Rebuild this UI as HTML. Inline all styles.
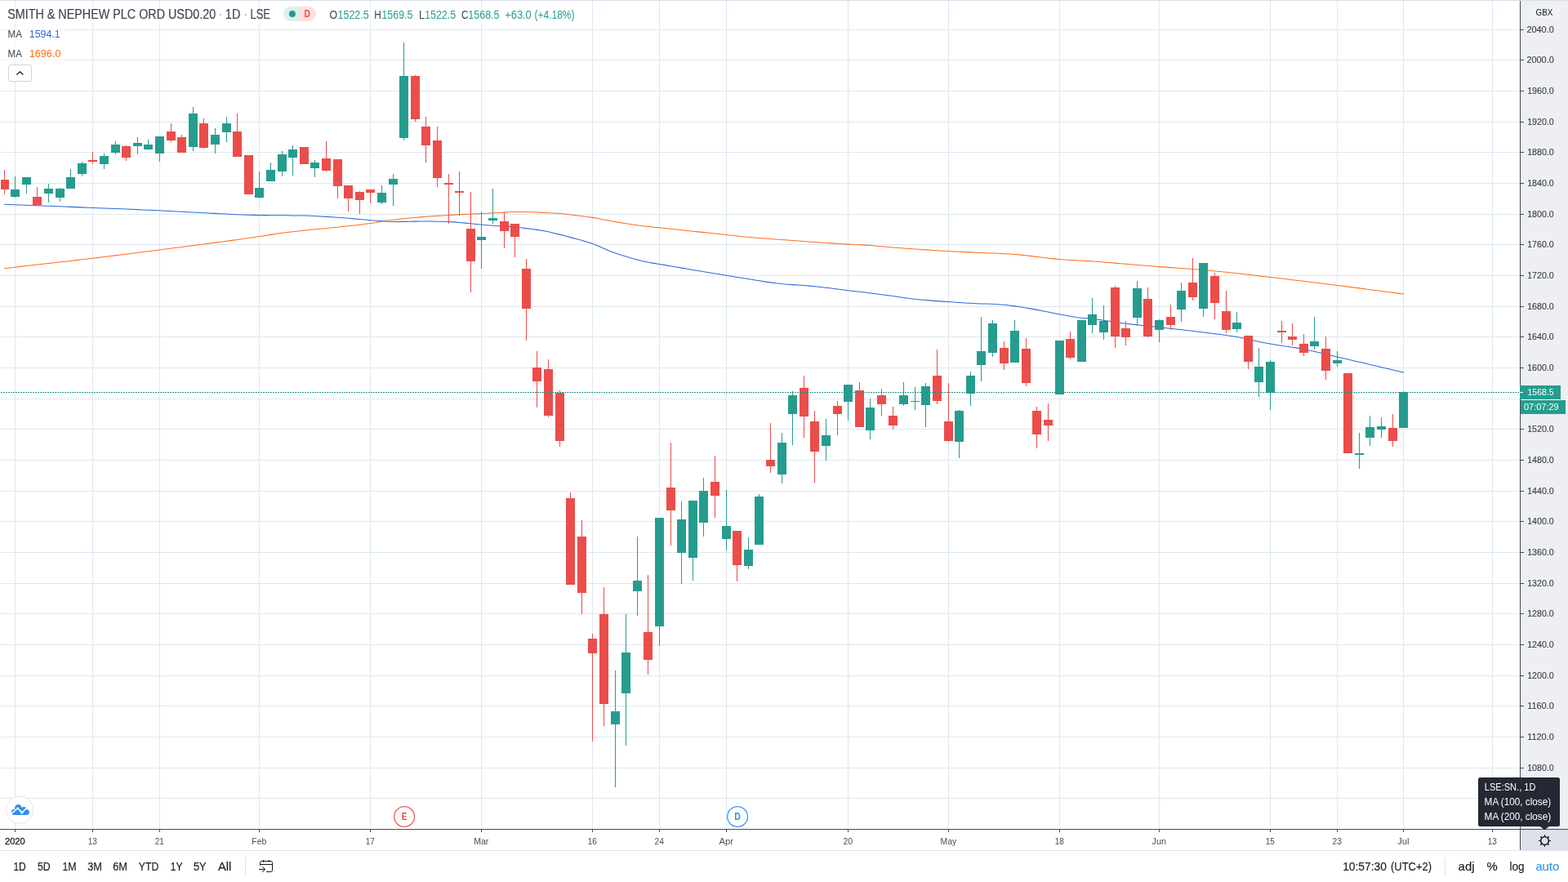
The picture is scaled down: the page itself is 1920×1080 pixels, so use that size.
<!DOCTYPE html>
<html lang="en"><head><meta charset="utf-8"><title>SMITH &amp; NEPHEW PLC ORD USD0.20 - 1D - LSE</title>
<style>html,body{margin:0;padding:0;background:#fff;width:1920px;height:1080px;overflow:hidden}svg{position:absolute;left:0;top:0;display:block;font-family:"Liberation Sans",sans-serif}text{white-space:pre}</style></head><body>
<svg width="1920" height="1080" viewBox="0 0 1920 1080">
<rect x="0" y="0" width="1920" height="1080" fill="#ffffff"/>
<g shape-rendering="crispEdges">
<rect x="1862" y="1" width="58" height="1014" fill="#eeeff3"/>
<rect x="1862" y="1016" width="58" height="26" fill="#dfe1ea"/>
<rect x="0" y="0" width="1920" height="1" fill="#dadce7"/>
<rect x="1" y="36" width="1860" height="1" fill="#dee8f0"/>
<rect x="1" y="73" width="1860" height="1" fill="#dee8f0"/>
<rect x="1" y="111" width="1860" height="1" fill="#dee8f0"/>
<rect x="1" y="149" width="1860" height="1" fill="#dee8f0"/>
<rect x="1" y="186" width="1860" height="1" fill="#dee8f0"/>
<rect x="1" y="224" width="1860" height="1" fill="#dee8f0"/>
<rect x="1" y="262" width="1860" height="1" fill="#dee8f0"/>
<rect x="1" y="299" width="1860" height="1" fill="#dee8f0"/>
<rect x="1" y="337" width="1860" height="1" fill="#dee8f0"/>
<rect x="1" y="375" width="1860" height="1" fill="#dee8f0"/>
<rect x="1" y="412" width="1860" height="1" fill="#dee8f0"/>
<rect x="1" y="450" width="1860" height="1" fill="#dee8f0"/>
<rect x="1" y="488" width="1860" height="1" fill="#dee8f0"/>
<rect x="1" y="525" width="1860" height="1" fill="#dee8f0"/>
<rect x="1" y="563" width="1860" height="1" fill="#dee8f0"/>
<rect x="1" y="601" width="1860" height="1" fill="#dee8f0"/>
<rect x="1" y="638" width="1860" height="1" fill="#dee8f0"/>
<rect x="1" y="676" width="1860" height="1" fill="#dee8f0"/>
<rect x="1" y="714" width="1860" height="1" fill="#dee8f0"/>
<rect x="1" y="751" width="1860" height="1" fill="#dee8f0"/>
<rect x="1" y="789" width="1860" height="1" fill="#dee8f0"/>
<rect x="1" y="827" width="1860" height="1" fill="#dee8f0"/>
<rect x="1" y="864" width="1860" height="1" fill="#dee8f0"/>
<rect x="1" y="902" width="1860" height="1" fill="#dee8f0"/>
<rect x="1" y="940" width="1860" height="1" fill="#dee8f0"/>
<rect x="1" y="977" width="1860" height="1" fill="#dee8f0"/>
<rect x="18" y="1" width="1" height="1014" fill="#dee8f0"/>
<rect x="113" y="1" width="1" height="1014" fill="#dee8f0"/>
<rect x="195" y="1" width="1" height="1014" fill="#dee8f0"/>
<rect x="317" y="1" width="1" height="1014" fill="#dee8f0"/>
<rect x="453" y="1" width="1" height="1014" fill="#dee8f0"/>
<rect x="589" y="1" width="1" height="1014" fill="#dee8f0"/>
<rect x="725" y="1" width="1" height="1014" fill="#dee8f0"/>
<rect x="807" y="1" width="1" height="1014" fill="#dee8f0"/>
<rect x="889" y="1" width="1" height="1014" fill="#dee8f0"/>
<rect x="1038" y="1" width="1" height="1014" fill="#dee8f0"/>
<rect x="1161" y="1" width="1" height="1014" fill="#dee8f0"/>
<rect x="1297" y="1" width="1" height="1014" fill="#dee8f0"/>
<rect x="1419" y="1" width="1" height="1014" fill="#dee8f0"/>
<rect x="1555" y="1" width="1" height="1014" fill="#dee8f0"/>
<rect x="1637" y="1" width="1" height="1014" fill="#dee8f0"/>
<rect x="1718" y="1" width="1" height="1014" fill="#dee8f0"/>
<rect x="1827" y="1" width="1" height="1014" fill="#dee8f0"/>
</g>
<polyline points="5,328.7 11.8,327.92 18.6,327.15 25.4,326.37 32.2,325.6 39,324.84 45.8,324.07 52.6,323.3 59.4,322.53 66.2,321.75 73,320.98 79.8,320.2 86.6,319.41 93.4,318.62 100.2,317.82 107,317.02 113.8,316.2 120.6,315.38 127.4,314.55 134.2,313.71 141,312.87 147.8,312.02 154.6,311.17 161.4,310.31 168.2,309.44 175,308.57 181.8,307.7 188.6,306.83 195.4,305.95 202.2,305.07 209,304.2 215.8,303.32 222.6,302.45 229.4,301.57 236.2,300.69 243,299.81 249.8,298.93 256.6,298.04 263.4,297.14 270.2,296.23 277,295.32 283.8,294.39 290.6,293.46 297.4,292.51 304.2,291.55 311,290.57 317.8,289.58 324.6,288.51 331.4,287.39 338.2,286.28 345,285.27 351.8,284.42 358.6,283.66 365.4,282.9 372.2,282.18 379,281.49 385.8,280.81 392.6,280.15 399.4,279.5 406.2,278.84 413,278.16 419.8,277.47 426.6,276.75 433.4,275.99 440.2,275.18 447,274.32 453.8,273.4 460.6,272.41 467.4,271.03 474.2,270.05 481,269.21 487.8,268.43 494.6,267.71 501.4,267.05 508.2,266.43 515,265.86 521.8,265.32 528.6,264.83 535.4,264.36 542.2,263.92 549,263.5 555.8,263.12 562.6,262.79 569.4,262.49 576.2,262.19 583,261.89 589.8,261.56 596.6,261.18 603.4,260.78 610.2,260.42 617,260.12 623.8,259.82 630.6,259.57 637.4,259.41 644.2,259.45 651,259.68 657.8,260.02 664.6,260.38 671.4,260.71 678.2,261.08 685,261.51 691.8,262.07 698.6,262.92 705.4,263.75 712.2,264.55 719,265.41 725.8,266.37 732.6,267.56 739.4,268.9 746.2,270.26 753,271.5 759.8,272.62 766.6,273.7 773.4,274.74 780.2,275.73 787,276.65 793.8,277.48 800.6,278.18 807.4,278.84 814.2,279.54 821,280.25 827.8,280.97 834.6,281.69 841.4,282.42 848.2,283.15 855,283.88 861.8,284.61 868.6,285.34 875.4,286.06 882.2,286.78 889,287.5 895.8,288.23 902.6,288.96 909.4,289.67 916.2,290.32 923,290.91 929.8,291.46 936.6,291.98 943.4,292.49 950.2,292.99 957,293.5 963.8,294.01 970.6,294.52 977.4,295.02 984.2,295.52 991,296.01 997.8,296.49 1004.6,296.97 1011.4,297.43 1018.2,297.88 1025,298.32 1031.8,298.74 1038.6,299.13 1045.4,299.47 1052.2,299.78 1059,300.14 1065.8,300.6 1072.6,301.15 1079.4,301.75 1086.2,302.35 1093,302.9 1099.8,303.41 1106.6,303.92 1113.4,304.43 1120.2,304.92 1127,305.41 1133.8,305.88 1140.6,306.34 1147.4,306.78 1154.2,307.2 1161,307.6 1167.8,307.97 1174.6,308.3 1181.4,308.61 1188.2,308.89 1195,309.17 1201.8,309.45 1208.6,309.73 1215.4,310.03 1222.2,310.35 1229,310.7 1235.8,311.1 1242.6,311.54 1249.4,312.11 1256.2,312.82 1263,313.62 1269.8,314.47 1276.6,315.33 1283.4,316.15 1290.2,316.89 1297,317.5 1303.8,317.99 1310.6,318.42 1317.4,318.82 1324.2,319.2 1331,319.61 1337.8,320.06 1344.6,320.54 1351.4,321.06 1358.2,321.59 1365,322.14 1371.8,322.7 1378.6,323.27 1385.4,323.85 1392.2,324.42 1399,324.99 1405.8,325.55 1412.6,326.1 1419.4,326.63 1426.2,327.14 1433,327.63 1439.8,328.1 1446.6,328.58 1453.4,329.06 1460.2,329.56 1467,330.1 1473.8,330.67 1480.6,331.28 1487.4,331.93 1494.2,332.6 1501,333.31 1507.8,334.04 1514.6,334.78 1521.4,335.54 1528.2,336.32 1535,337.1 1541.8,337.89 1548.6,338.68 1555.4,339.47 1562.2,340.25 1569,341.04 1575.8,341.85 1582.6,342.66 1589.4,343.48 1596.2,344.31 1603,345.15 1609.8,345.99 1616.6,346.84 1623.4,347.69 1630.2,348.54 1637,349.4 1643.8,350.26 1650.6,351.13 1657.4,352.01 1664.2,352.89 1671,353.78 1677.8,354.67 1684.6,355.56 1691.4,356.46 1698.2,357.35 1705,358.24 1711.8,359.13 1718.6,360.02 1719.2,360.1" fill="none" stroke="#ff6d1a" stroke-width="1.05" stroke-linejoin="round"/>
<polyline points="5,250.3 11.8,250.55 18.6,250.8 25.4,251.05 32.2,251.3 39,251.55 45.8,251.8 52.6,252.06 59.4,252.32 66.2,252.57 73,252.83 79.8,253.1 86.6,253.36 93.4,253.62 100.2,253.89 107,254.16 113.8,254.43 120.6,254.7 127.4,254.97 134.2,255.24 141,255.51 147.8,255.78 154.6,256.05 161.4,256.33 168.2,256.61 175,256.9 181.8,257.2 188.6,257.5 195.4,257.82 202.2,258.16 209,258.52 215.8,258.9 222.6,259.28 229.4,259.66 236.2,260.01 243,260.35 249.8,260.69 256.6,261.04 263.4,261.39 270.2,261.74 277,262.08 283.8,262.4 290.6,262.7 297.4,262.96 304.2,263.19 311,263.38 317.8,263.51 324.6,263.61 331.4,263.68 338.2,263.74 345,263.79 351.8,263.84 358.6,263.91 365.4,263.99 372.2,264.1 379,264.29 385.8,264.58 392.6,264.95 399.4,265.36 406.2,265.8 413,266.25 419.8,266.73 426.6,267.28 433.4,267.87 440.2,268.48 447,269.09 453.8,269.67 460.6,270.27 467.4,270.83 474.2,271.26 481,271.5 487.8,271.46 494.6,271.37 501.4,271.24 508.2,271.12 515,271.03 521.8,271 528.6,271.05 535.4,271.15 542.2,271.31 549,271.5 555.8,271.86 562.6,272.44 569.4,273.12 576.2,273.77 583,274.4 589.8,275.07 596.6,275.71 603.4,276.28 610.2,276.73 617,277.12 623.8,277.53 630.6,278.05 637.4,278.78 644.2,279.64 651,280.5 657.8,281.39 664.6,282.43 671.4,283.77 678.2,285.39 685,287.13 691.8,288.85 698.6,290.62 705.4,292.47 712.2,294.36 719,296.36 725.8,298.58 732.6,301.24 739.4,304.22 746.2,307.17 753,309.75 759.8,311.99 766.6,314.12 773.4,316.13 780.2,317.99 787,319.67 793.8,321.16 800.6,322.37 807.4,323.47 814.2,324.63 821,325.8 827.8,326.97 834.6,328.13 841.4,329.28 848.2,330.42 855,331.56 861.8,332.69 868.6,333.82 875.4,334.95 882.2,336.08 889,337.2 895.8,338.33 902.6,339.44 909.4,340.49 916.2,341.53 923,342.65 929.8,343.8 936.6,344.89 943.4,345.89 950.2,346.83 957,347.6 963.8,348.16 970.6,348.61 977.4,349.04 984.2,349.53 991,350.13 997.8,350.79 1004.6,351.5 1011.4,352.24 1018.2,353.06 1025,353.93 1031.8,354.82 1038.6,355.67 1045.4,356.48 1052.2,357.27 1059,358.08 1065.8,358.93 1072.6,359.8 1079.4,360.69 1086.2,361.59 1093,362.5 1099.8,363.47 1106.6,364.49 1113.4,365.46 1120.2,366.27 1127,366.95 1133.8,367.56 1140.6,368.12 1147.4,368.64 1154.2,369.13 1161,369.6 1167.8,370.06 1174.6,370.52 1181.4,370.95 1188.2,371.34 1195,371.67 1201.8,371.93 1208.6,372.08 1215.4,372.27 1222.2,372.67 1229,373.3 1235.8,374.06 1242.6,374.87 1249.4,375.82 1256.2,376.92 1263,378.13 1269.8,379.36 1276.6,380.65 1283.4,382.04 1290.2,383.43 1297,384.75 1303.8,386.05 1310.6,387.33 1317.4,388.42 1324.2,389.17 1331,389.71 1337.8,390.34 1344.6,391.19 1351.4,392.19 1358.2,393.28 1365,394.38 1371.8,395.42 1378.6,396.32 1385.4,397.11 1392.2,397.84 1399,398.54 1405.8,399.22 1412.6,399.91 1419.4,400.64 1426.2,401.4 1433,402.16 1439.8,402.93 1446.6,403.72 1453.4,404.51 1460.2,405.32 1467,406.15 1473.8,407 1480.6,407.85 1487.4,408.69 1494.2,409.57 1501,410.49 1507.8,411.5 1514.6,412.6 1521.4,413.94 1528.2,415.48 1535,417.03 1541.8,418.46 1548.6,419.8 1555.4,421.08 1562.2,422.27 1569,423.34 1575.8,424.33 1582.6,425.32 1589.4,426.36 1596.2,427.54 1603,428.89 1609.8,430.39 1616.6,431.98 1623.4,433.63 1630.2,435.29 1637,436.9 1643.8,438.48 1650.6,440.06 1657.4,441.65 1664.2,443.25 1671,444.85 1677.8,446.45 1684.6,448.05 1691.4,449.65 1698.2,451.26 1705,452.86 1711.8,454.46 1718.6,456.06 1719.2,456.2" fill="none" stroke="#2b69d8" stroke-width="1.05" stroke-linejoin="round"/>
<g shape-rendering="crispEdges">
<rect x="5" y="208" width="1" height="30" fill="#eb4d4a"/>
<rect x="1" y="220" width="10" height="12" fill="#eb4d4a"/>
<rect x="18" y="216" width="1" height="26" fill="#269c8f"/>
<rect x="13" y="232" width="11" height="9" fill="#269c8f"/>
<rect x="32" y="217" width="1" height="20" fill="#269c8f"/>
<rect x="27" y="217" width="11" height="9" fill="#269c8f"/>
<rect x="45" y="229" width="1" height="22" fill="#eb4d4a"/>
<rect x="40" y="241" width="11" height="10" fill="#eb4d4a"/>
<rect x="59" y="225" width="1" height="23" fill="#269c8f"/>
<rect x="54" y="231" width="11" height="6" fill="#269c8f"/>
<rect x="73" y="230" width="1" height="17" fill="#269c8f"/>
<rect x="68" y="231" width="11" height="11" fill="#269c8f"/>
<rect x="86" y="207" width="1" height="24" fill="#269c8f"/>
<rect x="81" y="217" width="11" height="14" fill="#269c8f"/>
<rect x="100" y="198" width="1" height="18" fill="#269c8f"/>
<rect x="95" y="200" width="11" height="13" fill="#269c8f"/>
<rect x="113" y="186" width="1" height="15" fill="#eb4d4a"/>
<rect x="108" y="196" width="11" height="2" fill="#eb4d4a"/>
<rect x="127" y="188" width="1" height="19" fill="#269c8f"/>
<rect x="122" y="191" width="11" height="10" fill="#269c8f"/>
<rect x="141" y="173" width="1" height="16" fill="#269c8f"/>
<rect x="136" y="177" width="11" height="10" fill="#269c8f"/>
<rect x="154" y="178" width="1" height="19" fill="#eb4d4a"/>
<rect x="149" y="179" width="11" height="14" fill="#eb4d4a"/>
<rect x="168" y="168" width="1" height="21" fill="#269c8f"/>
<rect x="163" y="175" width="11" height="4" fill="#269c8f"/>
<rect x="181" y="171" width="1" height="12" fill="#269c8f"/>
<rect x="176" y="177" width="11" height="6" fill="#269c8f"/>
<rect x="195" y="167" width="1" height="31" fill="#269c8f"/>
<rect x="190" y="167" width="11" height="21" fill="#269c8f"/>
<rect x="209" y="151" width="1" height="23" fill="#eb4d4a"/>
<rect x="204" y="161" width="11" height="11" fill="#eb4d4a"/>
<rect x="222" y="165" width="1" height="22" fill="#eb4d4a"/>
<rect x="217" y="168" width="11" height="19" fill="#eb4d4a"/>
<rect x="236" y="131" width="1" height="54" fill="#269c8f"/>
<rect x="231" y="139" width="11" height="41" fill="#269c8f"/>
<rect x="249" y="145" width="1" height="37" fill="#eb4d4a"/>
<rect x="244" y="151" width="11" height="30" fill="#eb4d4a"/>
<rect x="263" y="157" width="1" height="31" fill="#269c8f"/>
<rect x="258" y="165" width="11" height="12" fill="#269c8f"/>
<rect x="277" y="143" width="1" height="31" fill="#269c8f"/>
<rect x="272" y="151" width="11" height="11" fill="#269c8f"/>
<rect x="290" y="139" width="1" height="53" fill="#eb4d4a"/>
<rect x="285" y="161" width="11" height="31" fill="#eb4d4a"/>
<rect x="304" y="190" width="1" height="48" fill="#eb4d4a"/>
<rect x="299" y="190" width="11" height="48" fill="#eb4d4a"/>
<rect x="317" y="210" width="1" height="33" fill="#269c8f"/>
<rect x="312" y="230" width="11" height="12" fill="#269c8f"/>
<rect x="331" y="199" width="1" height="23" fill="#269c8f"/>
<rect x="326" y="208" width="11" height="14" fill="#269c8f"/>
<rect x="345" y="185" width="1" height="31" fill="#269c8f"/>
<rect x="340" y="189" width="11" height="21" fill="#269c8f"/>
<rect x="358" y="178" width="1" height="37" fill="#269c8f"/>
<rect x="353" y="183" width="11" height="10" fill="#269c8f"/>
<rect x="372" y="180" width="1" height="21" fill="#eb4d4a"/>
<rect x="367" y="180" width="11" height="21" fill="#eb4d4a"/>
<rect x="385" y="196" width="1" height="21" fill="#269c8f"/>
<rect x="380" y="199" width="11" height="7" fill="#269c8f"/>
<rect x="399" y="173" width="1" height="37" fill="#eb4d4a"/>
<rect x="394" y="194" width="11" height="15" fill="#eb4d4a"/>
<rect x="413" y="195" width="1" height="48" fill="#eb4d4a"/>
<rect x="408" y="195" width="11" height="33" fill="#eb4d4a"/>
<rect x="426" y="227" width="1" height="32" fill="#eb4d4a"/>
<rect x="421" y="227" width="11" height="16" fill="#eb4d4a"/>
<rect x="440" y="234" width="1" height="28" fill="#eb4d4a"/>
<rect x="435" y="235" width="11" height="10" fill="#eb4d4a"/>
<rect x="453" y="232" width="1" height="17" fill="#eb4d4a"/>
<rect x="448" y="232" width="11" height="4" fill="#eb4d4a"/>
<rect x="467" y="227" width="1" height="23" fill="#269c8f"/>
<rect x="462" y="236" width="11" height="12" fill="#269c8f"/>
<rect x="481" y="213" width="1" height="39" fill="#269c8f"/>
<rect x="476" y="219" width="11" height="7" fill="#269c8f"/>
<rect x="494" y="52" width="1" height="120" fill="#269c8f"/>
<rect x="489" y="93" width="11" height="76" fill="#269c8f"/>
<rect x="508" y="92" width="1" height="57" fill="#eb4d4a"/>
<rect x="503" y="93" width="11" height="53" fill="#eb4d4a"/>
<rect x="521" y="143" width="1" height="56" fill="#eb4d4a"/>
<rect x="516" y="155" width="11" height="23" fill="#eb4d4a"/>
<rect x="535" y="155" width="1" height="74" fill="#eb4d4a"/>
<rect x="530" y="172" width="11" height="46" fill="#eb4d4a"/>
<rect x="549" y="213" width="1" height="61" fill="#eb4d4a"/>
<rect x="544" y="224" width="11" height="2" fill="#eb4d4a"/>
<rect x="562" y="210" width="1" height="54" fill="#eb4d4a"/>
<rect x="557" y="234" width="11" height="2" fill="#eb4d4a"/>
<rect x="576" y="235" width="1" height="123" fill="#eb4d4a"/>
<rect x="571" y="280" width="11" height="40" fill="#eb4d4a"/>
<rect x="589" y="259" width="1" height="70" fill="#269c8f"/>
<rect x="584" y="290" width="11" height="4" fill="#269c8f"/>
<rect x="603" y="231" width="1" height="43" fill="#269c8f"/>
<rect x="598" y="267" width="11" height="3" fill="#269c8f"/>
<rect x="617" y="260" width="1" height="44" fill="#eb4d4a"/>
<rect x="612" y="271" width="11" height="12" fill="#eb4d4a"/>
<rect x="630" y="274" width="1" height="41" fill="#eb4d4a"/>
<rect x="625" y="274" width="11" height="16" fill="#eb4d4a"/>
<rect x="644" y="317" width="1" height="100" fill="#eb4d4a"/>
<rect x="639" y="329" width="11" height="49" fill="#eb4d4a"/>
<rect x="657" y="430" width="1" height="69" fill="#eb4d4a"/>
<rect x="652" y="450" width="11" height="17" fill="#eb4d4a"/>
<rect x="671" y="440" width="1" height="71" fill="#eb4d4a"/>
<rect x="666" y="452" width="11" height="57" fill="#eb4d4a"/>
<rect x="685" y="478" width="1" height="69" fill="#eb4d4a"/>
<rect x="680" y="481" width="11" height="59" fill="#eb4d4a"/>
<rect x="698" y="603" width="1" height="113" fill="#eb4d4a"/>
<rect x="693" y="610" width="11" height="106" fill="#eb4d4a"/>
<rect x="712" y="637" width="1" height="115" fill="#eb4d4a"/>
<rect x="707" y="657" width="11" height="69" fill="#eb4d4a"/>
<rect x="725" y="776" width="1" height="132" fill="#eb4d4a"/>
<rect x="720" y="782" width="11" height="18" fill="#eb4d4a"/>
<rect x="739" y="719" width="1" height="170" fill="#eb4d4a"/>
<rect x="734" y="752" width="11" height="110" fill="#eb4d4a"/>
<rect x="753" y="821" width="1" height="143" fill="#269c8f"/>
<rect x="748" y="871" width="11" height="16" fill="#269c8f"/>
<rect x="766" y="752" width="1" height="161" fill="#269c8f"/>
<rect x="761" y="799" width="11" height="50" fill="#269c8f"/>
<rect x="780" y="657" width="1" height="97" fill="#269c8f"/>
<rect x="775" y="711" width="11" height="13" fill="#269c8f"/>
<rect x="793" y="704" width="1" height="122" fill="#eb4d4a"/>
<rect x="788" y="774" width="11" height="34" fill="#eb4d4a"/>
<rect x="807" y="634" width="1" height="157" fill="#269c8f"/>
<rect x="802" y="634" width="11" height="133" fill="#269c8f"/>
<rect x="821" y="542" width="1" height="126" fill="#eb4d4a"/>
<rect x="816" y="597" width="11" height="28" fill="#eb4d4a"/>
<rect x="834" y="614" width="1" height="101" fill="#269c8f"/>
<rect x="829" y="636" width="11" height="41" fill="#269c8f"/>
<rect x="848" y="613" width="1" height="98" fill="#269c8f"/>
<rect x="843" y="613" width="11" height="70" fill="#269c8f"/>
<rect x="861" y="585" width="1" height="72" fill="#269c8f"/>
<rect x="856" y="601" width="11" height="39" fill="#269c8f"/>
<rect x="875" y="558" width="1" height="76" fill="#eb4d4a"/>
<rect x="870" y="590" width="11" height="17" fill="#eb4d4a"/>
<rect x="889" y="600" width="1" height="74" fill="#269c8f"/>
<rect x="884" y="644" width="11" height="16" fill="#269c8f"/>
<rect x="902" y="650" width="1" height="62" fill="#eb4d4a"/>
<rect x="897" y="650" width="11" height="42" fill="#eb4d4a"/>
<rect x="916" y="658" width="1" height="39" fill="#269c8f"/>
<rect x="911" y="673" width="11" height="20" fill="#269c8f"/>
<rect x="929" y="605" width="1" height="62" fill="#269c8f"/>
<rect x="924" y="608" width="11" height="59" fill="#269c8f"/>
<rect x="943" y="518" width="1" height="61" fill="#eb4d4a"/>
<rect x="938" y="563" width="11" height="8" fill="#eb4d4a"/>
<rect x="957" y="530" width="1" height="62" fill="#269c8f"/>
<rect x="952" y="542" width="11" height="39" fill="#269c8f"/>
<rect x="970" y="479" width="1" height="66" fill="#269c8f"/>
<rect x="965" y="484" width="11" height="23" fill="#269c8f"/>
<rect x="984" y="460" width="1" height="76" fill="#eb4d4a"/>
<rect x="979" y="475" width="11" height="35" fill="#eb4d4a"/>
<rect x="997" y="503" width="1" height="88" fill="#eb4d4a"/>
<rect x="992" y="516" width="11" height="37" fill="#eb4d4a"/>
<rect x="1011" y="513" width="1" height="51" fill="#269c8f"/>
<rect x="1006" y="533" width="11" height="13" fill="#269c8f"/>
<rect x="1025" y="491" width="1" height="42" fill="#eb4d4a"/>
<rect x="1020" y="497" width="11" height="10" fill="#eb4d4a"/>
<rect x="1038" y="471" width="1" height="44" fill="#269c8f"/>
<rect x="1033" y="471" width="11" height="21" fill="#269c8f"/>
<rect x="1052" y="468" width="1" height="55" fill="#eb4d4a"/>
<rect x="1047" y="478" width="11" height="45" fill="#eb4d4a"/>
<rect x="1065" y="488" width="1" height="50" fill="#269c8f"/>
<rect x="1060" y="499" width="11" height="28" fill="#269c8f"/>
<rect x="1079" y="476" width="1" height="33" fill="#eb4d4a"/>
<rect x="1074" y="484" width="11" height="11" fill="#eb4d4a"/>
<rect x="1093" y="498" width="1" height="28" fill="#eb4d4a"/>
<rect x="1088" y="509" width="11" height="12" fill="#eb4d4a"/>
<rect x="1106" y="468" width="1" height="29" fill="#269c8f"/>
<rect x="1101" y="484" width="11" height="11" fill="#269c8f"/>
<rect x="1120" y="474" width="1" height="28" fill="#269c8f"/>
<rect x="1115" y="491" width="11" height="1" fill="#269c8f"/>
<rect x="1133" y="469" width="1" height="54" fill="#269c8f"/>
<rect x="1128" y="473" width="11" height="23" fill="#269c8f"/>
<rect x="1147" y="428" width="1" height="67" fill="#eb4d4a"/>
<rect x="1142" y="460" width="11" height="31" fill="#eb4d4a"/>
<rect x="1161" y="469" width="1" height="72" fill="#eb4d4a"/>
<rect x="1156" y="516" width="11" height="24" fill="#eb4d4a"/>
<rect x="1174" y="502" width="1" height="59" fill="#269c8f"/>
<rect x="1169" y="503" width="11" height="38" fill="#269c8f"/>
<rect x="1188" y="455" width="1" height="42" fill="#269c8f"/>
<rect x="1183" y="460" width="11" height="22" fill="#269c8f"/>
<rect x="1201" y="388" width="1" height="79" fill="#269c8f"/>
<rect x="1196" y="430" width="11" height="17" fill="#269c8f"/>
<rect x="1215" y="392" width="1" height="45" fill="#269c8f"/>
<rect x="1210" y="396" width="11" height="36" fill="#269c8f"/>
<rect x="1229" y="418" width="1" height="35" fill="#eb4d4a"/>
<rect x="1224" y="426" width="11" height="19" fill="#eb4d4a"/>
<rect x="1242" y="392" width="1" height="52" fill="#269c8f"/>
<rect x="1237" y="405" width="11" height="39" fill="#269c8f"/>
<rect x="1256" y="414" width="1" height="59" fill="#eb4d4a"/>
<rect x="1251" y="427" width="11" height="42" fill="#eb4d4a"/>
<rect x="1269" y="498" width="1" height="51" fill="#eb4d4a"/>
<rect x="1264" y="503" width="11" height="29" fill="#eb4d4a"/>
<rect x="1283" y="494" width="1" height="46" fill="#eb4d4a"/>
<rect x="1278" y="514" width="11" height="7" fill="#eb4d4a"/>
<rect x="1297" y="417" width="1" height="66" fill="#269c8f"/>
<rect x="1292" y="417" width="11" height="66" fill="#269c8f"/>
<rect x="1310" y="406" width="1" height="34" fill="#eb4d4a"/>
<rect x="1305" y="415" width="11" height="23" fill="#eb4d4a"/>
<rect x="1324" y="392" width="1" height="51" fill="#269c8f"/>
<rect x="1319" y="392" width="11" height="51" fill="#269c8f"/>
<rect x="1337" y="365" width="1" height="43" fill="#269c8f"/>
<rect x="1332" y="385" width="11" height="13" fill="#269c8f"/>
<rect x="1351" y="374" width="1" height="42" fill="#269c8f"/>
<rect x="1346" y="393" width="11" height="14" fill="#269c8f"/>
<rect x="1365" y="350" width="1" height="76" fill="#eb4d4a"/>
<rect x="1360" y="352" width="11" height="60" fill="#eb4d4a"/>
<rect x="1378" y="393" width="1" height="30" fill="#eb4d4a"/>
<rect x="1373" y="402" width="11" height="11" fill="#eb4d4a"/>
<rect x="1392" y="344" width="1" height="55" fill="#269c8f"/>
<rect x="1387" y="353" width="11" height="36" fill="#269c8f"/>
<rect x="1405" y="352" width="1" height="61" fill="#eb4d4a"/>
<rect x="1400" y="366" width="11" height="46" fill="#eb4d4a"/>
<rect x="1419" y="391" width="1" height="28" fill="#269c8f"/>
<rect x="1414" y="392" width="11" height="12" fill="#269c8f"/>
<rect x="1433" y="373" width="1" height="31" fill="#eb4d4a"/>
<rect x="1428" y="388" width="11" height="10" fill="#eb4d4a"/>
<rect x="1446" y="346" width="1" height="48" fill="#269c8f"/>
<rect x="1441" y="356" width="11" height="23" fill="#269c8f"/>
<rect x="1460" y="316" width="1" height="52" fill="#eb4d4a"/>
<rect x="1455" y="346" width="11" height="18" fill="#eb4d4a"/>
<rect x="1473" y="322" width="1" height="66" fill="#269c8f"/>
<rect x="1468" y="322" width="11" height="56" fill="#269c8f"/>
<rect x="1487" y="334" width="1" height="57" fill="#eb4d4a"/>
<rect x="1482" y="338" width="11" height="33" fill="#eb4d4a"/>
<rect x="1501" y="356" width="1" height="52" fill="#eb4d4a"/>
<rect x="1496" y="381" width="11" height="23" fill="#eb4d4a"/>
<rect x="1514" y="382" width="1" height="25" fill="#269c8f"/>
<rect x="1509" y="395" width="11" height="8" fill="#269c8f"/>
<rect x="1528" y="411" width="1" height="41" fill="#eb4d4a"/>
<rect x="1523" y="411" width="11" height="32" fill="#eb4d4a"/>
<rect x="1541" y="426" width="1" height="60" fill="#269c8f"/>
<rect x="1536" y="449" width="11" height="19" fill="#269c8f"/>
<rect x="1555" y="441" width="1" height="61" fill="#269c8f"/>
<rect x="1550" y="443" width="11" height="38" fill="#269c8f"/>
<rect x="1569" y="393" width="1" height="27" fill="#eb4d4a"/>
<rect x="1564" y="405" width="11" height="2" fill="#eb4d4a"/>
<rect x="1582" y="396" width="1" height="27" fill="#eb4d4a"/>
<rect x="1577" y="412" width="11" height="4" fill="#eb4d4a"/>
<rect x="1596" y="409" width="1" height="27" fill="#eb4d4a"/>
<rect x="1591" y="421" width="11" height="11" fill="#eb4d4a"/>
<rect x="1609" y="388" width="1" height="40" fill="#269c8f"/>
<rect x="1604" y="418" width="11" height="6" fill="#269c8f"/>
<rect x="1623" y="412" width="1" height="53" fill="#eb4d4a"/>
<rect x="1618" y="427" width="11" height="27" fill="#eb4d4a"/>
<rect x="1637" y="430" width="1" height="19" fill="#269c8f"/>
<rect x="1632" y="441" width="11" height="4" fill="#269c8f"/>
<rect x="1650" y="457" width="1" height="98" fill="#eb4d4a"/>
<rect x="1645" y="457" width="11" height="98" fill="#eb4d4a"/>
<rect x="1664" y="530" width="1" height="44" fill="#269c8f"/>
<rect x="1659" y="555" width="11" height="2" fill="#269c8f"/>
<rect x="1677" y="509" width="1" height="37" fill="#269c8f"/>
<rect x="1672" y="523" width="11" height="13" fill="#269c8f"/>
<rect x="1691" y="511" width="1" height="25" fill="#269c8f"/>
<rect x="1686" y="522" width="11" height="4" fill="#269c8f"/>
<rect x="1705" y="507" width="1" height="40" fill="#eb4d4a"/>
<rect x="1700" y="524" width="11" height="16" fill="#eb4d4a"/>
<rect x="1718" y="479" width="1" height="45" fill="#269c8f"/>
<rect x="1713" y="480" width="11" height="44" fill="#269c8f"/>
</g>
<line x1="1" y1="480.5" x2="1861" y2="480.5" stroke="#1d9587" stroke-width="1" stroke-dasharray="2 1" shape-rendering="crispEdges"/>
<g shape-rendering="crispEdges">
<rect x="0" y="1015" width="1920" height="1" fill="#474a55"/>
<rect x="1861" y="1" width="1" height="1040" fill="#474a55"/>
<rect x="0" y="1041" width="1861" height="1" fill="#e0e3eb"/>
<rect x="18" y="1016" width="1" height="3" fill="#474a55"/>
<rect x="113" y="1016" width="1" height="3" fill="#474a55"/>
<rect x="195" y="1016" width="1" height="3" fill="#474a55"/>
<rect x="317" y="1016" width="1" height="3" fill="#474a55"/>
<rect x="453" y="1016" width="1" height="3" fill="#474a55"/>
<rect x="589" y="1016" width="1" height="3" fill="#474a55"/>
<rect x="725" y="1016" width="1" height="3" fill="#474a55"/>
<rect x="807" y="1016" width="1" height="3" fill="#474a55"/>
<rect x="889" y="1016" width="1" height="3" fill="#474a55"/>
<rect x="1038" y="1016" width="1" height="3" fill="#474a55"/>
<rect x="1161" y="1016" width="1" height="3" fill="#474a55"/>
<rect x="1297" y="1016" width="1" height="3" fill="#474a55"/>
<rect x="1419" y="1016" width="1" height="3" fill="#474a55"/>
<rect x="1555" y="1016" width="1" height="3" fill="#474a55"/>
<rect x="1637" y="1016" width="1" height="3" fill="#474a55"/>
<rect x="1718" y="1016" width="1" height="3" fill="#474a55"/>
<rect x="1827" y="1016" width="1" height="3" fill="#474a55"/>
<rect x="1862" y="36" width="4" height="1" fill="#474a55"/>
<rect x="1862" y="73" width="4" height="1" fill="#474a55"/>
<rect x="1862" y="111" width="4" height="1" fill="#474a55"/>
<rect x="1862" y="149" width="4" height="1" fill="#474a55"/>
<rect x="1862" y="186" width="4" height="1" fill="#474a55"/>
<rect x="1862" y="224" width="4" height="1" fill="#474a55"/>
<rect x="1862" y="262" width="4" height="1" fill="#474a55"/>
<rect x="1862" y="299" width="4" height="1" fill="#474a55"/>
<rect x="1862" y="337" width="4" height="1" fill="#474a55"/>
<rect x="1862" y="375" width="4" height="1" fill="#474a55"/>
<rect x="1862" y="412" width="4" height="1" fill="#474a55"/>
<rect x="1862" y="450" width="4" height="1" fill="#474a55"/>
<rect x="1862" y="488" width="4" height="1" fill="#474a55"/>
<rect x="1862" y="525" width="4" height="1" fill="#474a55"/>
<rect x="1862" y="563" width="4" height="1" fill="#474a55"/>
<rect x="1862" y="601" width="4" height="1" fill="#474a55"/>
<rect x="1862" y="638" width="4" height="1" fill="#474a55"/>
<rect x="1862" y="676" width="4" height="1" fill="#474a55"/>
<rect x="1862" y="714" width="4" height="1" fill="#474a55"/>
<rect x="1862" y="751" width="4" height="1" fill="#474a55"/>
<rect x="1862" y="789" width="4" height="1" fill="#474a55"/>
<rect x="1862" y="827" width="4" height="1" fill="#474a55"/>
<rect x="1862" y="864" width="4" height="1" fill="#474a55"/>
<rect x="1862" y="902" width="4" height="1" fill="#474a55"/>
<rect x="1862" y="940" width="4" height="1" fill="#474a55"/>
<rect x="1862" y="977" width="4" height="1" fill="#474a55"/>
</g>
<text x="1869.5" y="39.6" font-size="11.5" fill="#3a3e49" textLength="33.2" lengthAdjust="spacingAndGlyphs" stroke="#3a3e49" stroke-width="0.15">2040.0</text>
<text x="1869.5" y="76.6" font-size="11.5" fill="#3a3e49" textLength="33.2" lengthAdjust="spacingAndGlyphs" stroke="#3a3e49" stroke-width="0.15">2000.0</text>
<text x="1870.2" y="114.6" font-size="11.5" fill="#3a3e49" textLength="32.5" lengthAdjust="spacingAndGlyphs" stroke="#3a3e49" stroke-width="0.15">1960.0</text>
<text x="1870.2" y="152.6" font-size="11.5" fill="#3a3e49" textLength="32.5" lengthAdjust="spacingAndGlyphs" stroke="#3a3e49" stroke-width="0.15">1920.0</text>
<text x="1870.2" y="189.6" font-size="11.5" fill="#3a3e49" textLength="32.5" lengthAdjust="spacingAndGlyphs" stroke="#3a3e49" stroke-width="0.15">1880.0</text>
<text x="1870.2" y="227.6" font-size="11.5" fill="#3a3e49" textLength="32.5" lengthAdjust="spacingAndGlyphs" stroke="#3a3e49" stroke-width="0.15">1840.0</text>
<text x="1870.2" y="265.6" font-size="11.5" fill="#3a3e49" textLength="32.5" lengthAdjust="spacingAndGlyphs" stroke="#3a3e49" stroke-width="0.15">1800.0</text>
<text x="1870.2" y="302.6" font-size="11.5" fill="#3a3e49" textLength="32.5" lengthAdjust="spacingAndGlyphs" stroke="#3a3e49" stroke-width="0.15">1760.0</text>
<text x="1870.2" y="340.6" font-size="11.5" fill="#3a3e49" textLength="32.5" lengthAdjust="spacingAndGlyphs" stroke="#3a3e49" stroke-width="0.15">1720.0</text>
<text x="1870.2" y="378.6" font-size="11.5" fill="#3a3e49" textLength="32.5" lengthAdjust="spacingAndGlyphs" stroke="#3a3e49" stroke-width="0.15">1680.0</text>
<text x="1870.2" y="415.6" font-size="11.5" fill="#3a3e49" textLength="32.5" lengthAdjust="spacingAndGlyphs" stroke="#3a3e49" stroke-width="0.15">1640.0</text>
<text x="1870.2" y="453.6" font-size="11.5" fill="#3a3e49" textLength="32.5" lengthAdjust="spacingAndGlyphs" stroke="#3a3e49" stroke-width="0.15">1600.0</text>
<text x="1870.2" y="528.6" font-size="11.5" fill="#3a3e49" textLength="32.5" lengthAdjust="spacingAndGlyphs" stroke="#3a3e49" stroke-width="0.15">1520.0</text>
<text x="1870.2" y="566.6" font-size="11.5" fill="#3a3e49" textLength="32.5" lengthAdjust="spacingAndGlyphs" stroke="#3a3e49" stroke-width="0.15">1480.0</text>
<text x="1870.2" y="604.6" font-size="11.5" fill="#3a3e49" textLength="32.5" lengthAdjust="spacingAndGlyphs" stroke="#3a3e49" stroke-width="0.15">1440.0</text>
<text x="1870.2" y="641.6" font-size="11.5" fill="#3a3e49" textLength="32.5" lengthAdjust="spacingAndGlyphs" stroke="#3a3e49" stroke-width="0.15">1400.0</text>
<text x="1870.2" y="679.6" font-size="11.5" fill="#3a3e49" textLength="32.5" lengthAdjust="spacingAndGlyphs" stroke="#3a3e49" stroke-width="0.15">1360.0</text>
<text x="1870.2" y="717.6" font-size="11.5" fill="#3a3e49" textLength="32.5" lengthAdjust="spacingAndGlyphs" stroke="#3a3e49" stroke-width="0.15">1320.0</text>
<text x="1870.2" y="754.6" font-size="11.5" fill="#3a3e49" textLength="32.5" lengthAdjust="spacingAndGlyphs" stroke="#3a3e49" stroke-width="0.15">1280.0</text>
<text x="1870.2" y="792.6" font-size="11.5" fill="#3a3e49" textLength="32.5" lengthAdjust="spacingAndGlyphs" stroke="#3a3e49" stroke-width="0.15">1240.0</text>
<text x="1870.2" y="830.6" font-size="11.5" fill="#3a3e49" textLength="32.5" lengthAdjust="spacingAndGlyphs" stroke="#3a3e49" stroke-width="0.15">1200.0</text>
<text x="1870.2" y="867.6" font-size="11.5" fill="#3a3e49" textLength="32.5" lengthAdjust="spacingAndGlyphs" stroke="#3a3e49" stroke-width="0.15">1160.0</text>
<text x="1870.2" y="905.6" font-size="11.5" fill="#3a3e49" textLength="32.5" lengthAdjust="spacingAndGlyphs" stroke="#3a3e49" stroke-width="0.15">1120.0</text>
<text x="1870.2" y="943.6" font-size="11.5" fill="#3a3e49" textLength="32.5" lengthAdjust="spacingAndGlyphs" stroke="#3a3e49" stroke-width="0.15">1080.0</text>
<rect x="1873" y="7.5" width="36" height="16" rx="3" fill="#f1f2f6"/>
<text x="1880.5" y="19" font-size="11" fill="#131722" textLength="21" lengthAdjust="spacingAndGlyphs">GBX</text>
<g shape-rendering="crispEdges">
<rect x="1861" y="472" width="50" height="17" fill="#269c8f"/>
<rect x="1862" y="489" width="58" height="1" fill="#fbfbfd"/>
<rect x="1862" y="490" width="55" height="17" fill="#269c8f"/>
<rect x="1861" y="480" width="4" height="1" fill="#ffffff"/>
</g>
<text x="1870.5" y="483.6" font-size="11.5" fill="#ffffff" textLength="32" lengthAdjust="spacingAndGlyphs">1568.5</text>
<text x="1866" y="501.6" font-size="11.5" fill="#ffffff" textLength="42.6" lengthAdjust="spacingAndGlyphs">07:07:29</text>
<text x="6" y="1034" font-size="11.5" fill="#3a3e49" textLength="24.6" lengthAdjust="spacingAndGlyphs" stroke="#3a3e49" stroke-width="0.5">2020</text>
<text x="107.7" y="1034" font-size="11.5" fill="#4a4d58" textLength="11.2" lengthAdjust="spacingAndGlyphs">13</text>
<text x="189.7" y="1034" font-size="11.5" fill="#4a4d58" textLength="11.2" lengthAdjust="spacingAndGlyphs">21</text>
<text x="308.2" y="1034" font-size="11.5" fill="#4a4d58" textLength="18.2" lengthAdjust="spacingAndGlyphs">Feb</text>
<text x="447.7" y="1034" font-size="11.5" fill="#4a4d58" textLength="11.2" lengthAdjust="spacingAndGlyphs">17</text>
<text x="580.2" y="1034" font-size="11.5" fill="#4a4d58" textLength="18.2" lengthAdjust="spacingAndGlyphs">Mar</text>
<text x="719.7" y="1034" font-size="11.5" fill="#4a4d58" textLength="11.2" lengthAdjust="spacingAndGlyphs">16</text>
<text x="801.6" y="1034" font-size="11.5" fill="#4a4d58" textLength="11.4" lengthAdjust="spacingAndGlyphs">24</text>
<text x="880.5" y="1034" font-size="11.5" fill="#4a4d58" textLength="17.6" lengthAdjust="spacingAndGlyphs">Apr</text>
<text x="1032.5" y="1034" font-size="11.5" fill="#4a4d58" textLength="11.6" lengthAdjust="spacingAndGlyphs">20</text>
<text x="1151.5" y="1034" font-size="11.5" fill="#4a4d58" textLength="19.6" lengthAdjust="spacingAndGlyphs">May</text>
<text x="1291.7" y="1034" font-size="11.5" fill="#4a4d58" textLength="11.2" lengthAdjust="spacingAndGlyphs">18</text>
<text x="1410.6" y="1034" font-size="11.5" fill="#4a4d58" textLength="17.4" lengthAdjust="spacingAndGlyphs">Jun</text>
<text x="1549.7" y="1034" font-size="11.5" fill="#4a4d58" textLength="11.2" lengthAdjust="spacingAndGlyphs">15</text>
<text x="1631.6" y="1034" font-size="11.5" fill="#4a4d58" textLength="11.4" lengthAdjust="spacingAndGlyphs">23</text>
<text x="1711.2" y="1034" font-size="11.5" fill="#4a4d58" textLength="14.2" lengthAdjust="spacingAndGlyphs">Jul</text>
<text x="1821.7" y="1034" font-size="11.5" fill="#4a4d58" textLength="11.2" lengthAdjust="spacingAndGlyphs">13</text>
<rect x="5" y="9" width="702" height="20" fill="#ffffff" opacity="0.55"/>
<rect x="5" y="35" width="74" height="39" fill="#ffffff" opacity="0.7"/>
<rect x="5" y="37" width="74" height="10.5" fill="#ffffff"/>
<rect x="5" y="60" width="74" height="12" fill="#ffffff"/>
<text x="9.2" y="23.2" font-size="16.6" fill="#3f434e" textLength="255" lengthAdjust="spacingAndGlyphs" stroke="#3f434e" stroke-width="0.15">SMITH &amp; NEPHEW PLC ORD USD0.20</text>
<text x="267.6" y="23.2" font-size="16.6" fill="#9b9ea6" textLength="5" lengthAdjust="spacingAndGlyphs">·</text>
<text x="275.8" y="23.2" font-size="16.6" fill="#3f434e" textLength="18.6" lengthAdjust="spacingAndGlyphs" stroke="#3f434e" stroke-width="0.15">1D</text>
<text x="298.2" y="23.2" font-size="16.6" fill="#9b9ea6" textLength="5" lengthAdjust="spacingAndGlyphs">·</text>
<text x="306.4" y="23.2" font-size="16.6" fill="#3f434e" textLength="24.6" lengthAdjust="spacingAndGlyphs" stroke="#3f434e" stroke-width="0.15">LSE</text>
<path d="M356 8h11v18h-11a9 9 0 0 1 0-18z" fill="#dcf0ee"/>
<path d="M367 8h11a9 9 0 0 1 0 18h-11z" fill="#fce0df"/>
<circle cx="357.9" cy="16.9" r="4" fill="#1f9d8f"/>
<text x="372.6" y="21.2" font-size="12" fill="#eb4d4a" textLength="7.4" lengthAdjust="spacingAndGlyphs" font-weight="bold">D</text>
<text x="403.6" y="23.2" font-size="14" fill="#3f434e" textLength="9.6" lengthAdjust="spacingAndGlyphs">O</text>
<text x="413.5" y="23.2" font-size="14" fill="#269c8f" textLength="38.2" lengthAdjust="spacingAndGlyphs">1522.5</text>
<text x="458.2" y="23.2" font-size="14" fill="#3f434e" textLength="8.6" lengthAdjust="spacingAndGlyphs">H</text>
<text x="467.3" y="23.2" font-size="14" fill="#269c8f" textLength="38.2" lengthAdjust="spacingAndGlyphs">1569.5</text>
<text x="513" y="23.2" font-size="14" fill="#3f434e" textLength="7" lengthAdjust="spacingAndGlyphs">L</text>
<text x="520" y="23.2" font-size="14" fill="#269c8f" textLength="38.2" lengthAdjust="spacingAndGlyphs">1522.5</text>
<text x="565" y="23.2" font-size="14" fill="#3f434e" textLength="8.4" lengthAdjust="spacingAndGlyphs">C</text>
<text x="573.3" y="23.2" font-size="14" fill="#269c8f" textLength="38.2" lengthAdjust="spacingAndGlyphs">1568.5</text>
<text x="618.3" y="23.2" font-size="14" fill="#269c8f" textLength="32.4" lengthAdjust="spacingAndGlyphs">+63.0</text>
<text x="654.6" y="23.2" font-size="14" fill="#269c8f" textLength="48.8" lengthAdjust="spacingAndGlyphs">(+4.18%)</text>
<text x="9.6" y="46" font-size="12.4" fill="#3f434e" textLength="17.4" lengthAdjust="spacingAndGlyphs">MA</text>
<text x="35.8" y="46" font-size="13" fill="#2b69d8" textLength="37.8" lengthAdjust="spacingAndGlyphs">1594.1</text>
<text x="9.6" y="70" font-size="12.4" fill="#3f434e" textLength="17.4" lengthAdjust="spacingAndGlyphs">MA</text>
<text x="35.8" y="70" font-size="13" fill="#ff6d1a" textLength="38.6" lengthAdjust="spacingAndGlyphs">1696.0</text>
<rect x="10.5" y="79.5" width="28" height="20" rx="2.5" fill="#ffffff" stroke="#d1d4dc" stroke-width="1"/>
<path d="M20.4 91.4l4-3.6l4 3.6" fill="none" stroke="#131722" stroke-width="1.3"/>
<circle cx="495.1" cy="1000" r="12.4" fill="#ffffff" stroke="#ec5552" stroke-width="1.25"/>
<text x="491.8" y="1004" font-size="12.8" fill="#eb4d4a" textLength="6.6" lengthAdjust="spacingAndGlyphs" font-weight="bold">E</text>
<circle cx="903.1" cy="1000" r="12.4" fill="#ffffff" stroke="#2f95f2" stroke-width="1.25"/>
<text x="899.3" y="1004" font-size="12.8" fill="#2196f3" textLength="7.6" lengthAdjust="spacingAndGlyphs" font-weight="bold">D</text>
<circle cx="24.2" cy="991.7" r="16.6" fill="#ffffff" stroke="#e6e6e9" stroke-width="1"/>
<g fill="#2f8ef0"><circle cx="22.3" cy="989.2" r="4.2"/><circle cx="29.2" cy="991.4" r="3.3"/><circle cx="32.6" cy="994.6" r="3.3"/><circle cx="17" cy="994.1" r="3.1"/><path d="M15.4 992.6h17.6v5.3h-16.6a2.6 2.6 0 0 1 -1-0.4z"/></g>
<path d="M14.2 995.9L21.7 990L27 995.1L33 988.9" fill="none" stroke="#ffffff" stroke-width="1.5"/>
<circle cx="21.7" cy="989.8" r="1.3" fill="#ffffff"/><circle cx="27" cy="995.2" r="1.3" fill="#ffffff"/>
<rect x="1810" y="952" width="100" height="60" rx="2.5" fill="#242832"/>
<path d="M1885.8 1012h11l-5.5 4.2z" fill="#242832"/>
<text x="1817.8" y="968" font-size="12.4" fill="#ffffff" textLength="62.6" lengthAdjust="spacingAndGlyphs">LSE:SN., 1D</text>
<text x="1817.6" y="986" font-size="12.4" fill="#ffffff" textLength="81.6" lengthAdjust="spacingAndGlyphs">MA (100, close)</text>
<text x="1817.6" y="1003.8" font-size="12.4" fill="#ffffff" textLength="81.6" lengthAdjust="spacingAndGlyphs">MA (200, close)</text>
<circle cx="1891.5" cy="1029.5" r="4.9" fill="none" stroke="#10131c" stroke-width="1.5"/>
<g fill="#10131c" shape-rendering="crispEdges"><rect x="1891" y="1022" width="1" height="3"/><rect x="1891" y="1034" width="1" height="3"/><rect x="1884" y="1029" width="3" height="1"/><rect x="1896" y="1029" width="3" height="1"/></g>
<path d="M1887.9 1025.9l-1.6-1.6M1895.1 1025.9l1.6-1.6M1887.9 1033.1l-1.6 1.6M1895.1 1033.1l1.6 1.6" stroke="#10131c" stroke-width="1.3" fill="none"/>
<text x="16.4" y="1066" font-size="14.6" fill="#1c202b" textLength="15.4" lengthAdjust="spacingAndGlyphs" stroke="#1c202b" stroke-width="0.2">1D</text>
<text x="46" y="1066" font-size="14.6" fill="#1c202b" textLength="15.8" lengthAdjust="spacingAndGlyphs" stroke="#1c202b" stroke-width="0.2">5D</text>
<text x="76.4" y="1066" font-size="14.6" fill="#1c202b" textLength="17.2" lengthAdjust="spacingAndGlyphs" stroke="#1c202b" stroke-width="0.2">1M</text>
<text x="107.2" y="1066" font-size="14.6" fill="#1c202b" textLength="17.8" lengthAdjust="spacingAndGlyphs" stroke="#1c202b" stroke-width="0.2">3M</text>
<text x="138.2" y="1066" font-size="14.6" fill="#1c202b" textLength="17.8" lengthAdjust="spacingAndGlyphs" stroke="#1c202b" stroke-width="0.2">6M</text>
<text x="169.8" y="1066" font-size="14.6" fill="#1c202b" textLength="24.4" lengthAdjust="spacingAndGlyphs" stroke="#1c202b" stroke-width="0.2">YTD</text>
<text x="208.8" y="1066" font-size="14.6" fill="#1c202b" textLength="14.8" lengthAdjust="spacingAndGlyphs" stroke="#1c202b" stroke-width="0.2">1Y</text>
<text x="237" y="1066" font-size="14.6" fill="#1c202b" textLength="15.6" lengthAdjust="spacingAndGlyphs" stroke="#1c202b" stroke-width="0.2">5Y</text>
<text x="267" y="1066" font-size="14.6" fill="#1c202b" textLength="16.4" lengthAdjust="spacingAndGlyphs" stroke="#1c202b" stroke-width="0.2">All</text>
<rect x="300" y="1050" width="1" height="22" fill="#e0e3eb" shape-rendering="crispEdges"/>
<g fill="none" stroke="#131722" stroke-width="1"><path d="M318.5 1059.8V1056.5a2 2 0 0 1 2-2H331.5a2 2 0 0 1 2 2V1065.5a2 2 0 0 1 -2 2H326.2"/><path d="M318.5 1058.5H333.5"/><path d="M322.5 1053V1055.8M329.5 1053V1055.8"/><path d="M317 1064.5H324.4M321.2 1061.2L324.6 1064.5L321.2 1067.8"/></g>
<text x="1644.2" y="1066" font-size="14.6" fill="#1c202b" textLength="53.6" lengthAdjust="spacingAndGlyphs" stroke="#1c202b" stroke-width="0.2">10:57:30</text>
<text x="1703" y="1066" font-size="14.6" fill="#1c202b" textLength="50" lengthAdjust="spacingAndGlyphs" stroke="#1c202b" stroke-width="0.2">(UTC+2)</text>
<rect x="1769" y="1050" width="1" height="22" fill="#e0e3eb" shape-rendering="crispEdges"/>
<text x="1785.6" y="1066" font-size="14.6" fill="#1c202b" textLength="20" lengthAdjust="spacingAndGlyphs" stroke="#1c202b" stroke-width="0.2">adj</text>
<text x="1820.4" y="1066" font-size="14.6" fill="#1c202b" textLength="13.2" lengthAdjust="spacingAndGlyphs" stroke="#1c202b" stroke-width="0.2">%</text>
<text x="1848.4" y="1066" font-size="14.6" fill="#1c202b" textLength="18.2" lengthAdjust="spacingAndGlyphs" stroke="#1c202b" stroke-width="0.2">log</text>
<text x="1880.4" y="1066" font-size="14.6" fill="#3a97f0" textLength="28.8" lengthAdjust="spacingAndGlyphs" stroke="#3a97f0" stroke-width="0.2">auto</text>
</svg>
</body></html>
